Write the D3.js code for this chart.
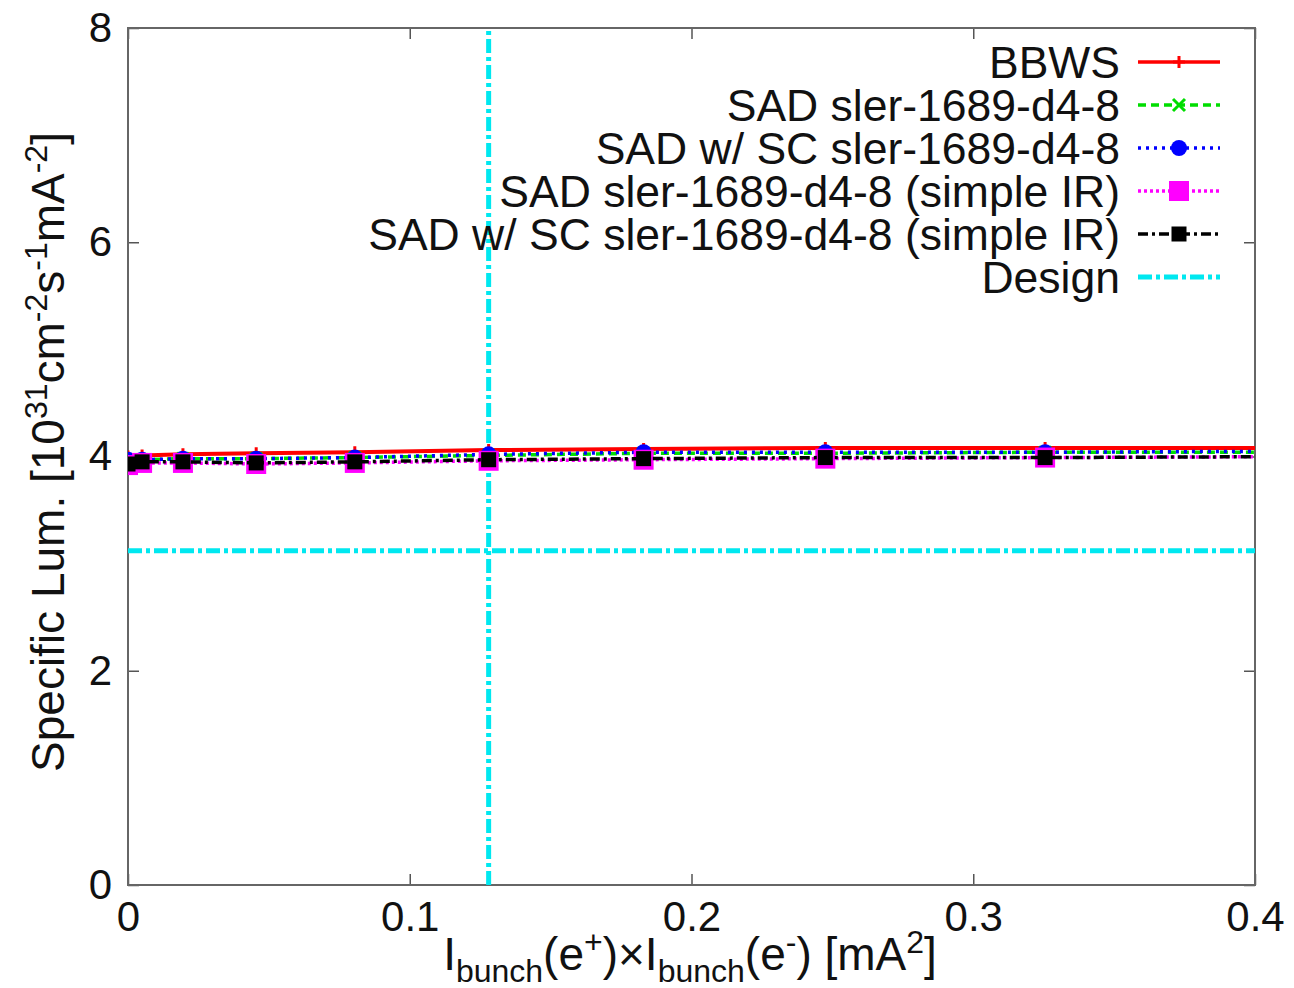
<!DOCTYPE html>
<html>
<head>
<meta charset="utf-8">
<script src="https://cdn.jsdelivr.net/npm/d3@7"></script>
<style>
  body { margin: 0; background: #fff; }
  svg text { font-family: "Liberation Sans", Arial, sans-serif; fill: #111; }
</style>
</head>
<body>
<svg id="canvas" width="1294" height="988"></svg>
<script>
// x = I_bunch(e+) x I_bunch(e-) [mA^2]; last point sits past the axis and gets clipped
const xVals = [0, 0.005, 0.0195, 0.0455, 0.0805, 0.128, 0.183, 0.2475, 0.3255, 0.42]

const bbws      = [4.00, 4.01, 4.02, 4.03, 4.04, 4.06, 4.07, 4.08, 4.08, 4.08]
const sad       = [3.96, 3.97, 3.98, 3.98, 3.99, 4.01, 4.03, 4.03, 4.04, 4.04]
const sadSC     = [3.97, 3.97, 3.98, 3.98, 3.99, 4.02, 4.04, 4.04, 4.04, 4.05]
const sadIR     = [3.92, 3.94, 3.94, 3.93, 3.94, 3.96, 3.97, 3.98, 3.99, 4.00]
const sadSCIR   = [3.93, 3.95, 3.95, 3.94, 3.95, 3.97, 3.98, 3.99, 3.99, 4.00]

const designX = 0.128
const designY = 3.12

const xTicks = [0, 0.1, 0.2, 0.3, 0.4]
const yTicks = [0, 2, 4, 6, 8]

const legendNames = [
    "BBWS",
    "SAD sler-1689-d4-8",
    "SAD w/ SC sler-1689-d4-8",
    "SAD sler-1689-d4-8 (simple IR)",
    "SAD w/ SC sler-1689-d4-8 (simple IR)",
    "Design"
]

const margin = { left: 128, right: 39, top: 28, bottom: 103 }
const width = 1294
const height = 988

let svg = d3.select("#canvas")

const xScale = d3.scaleLinear().domain([0, 0.4]).range([margin.left, width - margin.right])
const yScale = d3.scaleLinear().domain([0, 8]).range([height - margin.bottom, margin.top])

svg.append("defs").append("clipPath").attr("id", "plotclip")
    .append("rect")
    .attr("x", margin.left).attr("y", margin.top)
    .attr("width", xScale(0.4) - xScale(0)).attr("height", yScale(0) - yScale(8))

// axes with inward ticks
const tickLen = 11
svg.append("g")
    .attr("transform", "translate(0," + yScale(0) + ")")
    .call(d3.axisBottom(xScale).tickValues(xTicks).tickSize(-tickLen).tickPadding(16).tickFormat(d => d === 0 ? "0" : d3.format(".1f")(d)))
    .call(g => g.select(".domain").remove())
svg.append("g")
    .attr("transform", "translate(" + margin.left + ",0)")
    .call(d3.axisLeft(yScale).tickValues(yTicks).tickSize(-tickLen).tickPadding(16).tickFormat(d3.format("d")))
    .call(g => g.select(".domain").remove())
svg.append("g")
    .attr("transform", "translate(0," + yScale(8) + ")")
    .call(d3.axisTop(xScale).tickValues(xTicks).tickSize(-tickLen).tickFormat(""))
    .call(g => g.select(".domain").remove())
svg.append("g")
    .attr("transform", "translate(" + xScale(0.4) + ",0)")
    .call(d3.axisRight(yScale).tickValues(yTicks).tickSize(-tickLen).tickFormat(""))
    .call(g => g.select(".domain").remove())

svg.selectAll(".tick line").attr("stroke", "#555").attr("stroke-width", 1.5)
svg.selectAll(".tick text").attr("font-size", 42).attr("fill", "#111")

svg.append("rect")
    .attr("x", xScale(0)).attr("y", yScale(8))
    .attr("width", xScale(0.4) - xScale(0)).attr("height", yScale(0) - yScale(8))
    .attr("fill", "none").attr("stroke", "#666").attr("stroke-width", 2)

const plot = svg.append("g").attr("clip-path", "url(#plotclip)")

// design lines
const cyanDash = "14,4,4,4"
plot.append("line")
    .attr("x1", xScale(designX)).attr("x2", xScale(designX))
    .attr("y1", yScale(0)).attr("y2", yScale(8))
    .attr("stroke", "#00e8f0").attr("stroke-width", 5).attr("stroke-dasharray", cyanDash)
plot.append("line")
    .attr("x1", xScale(0)).attr("x2", xScale(0.4))
    .attr("y1", yScale(designY)).attr("y2", yScale(designY))
    .attr("stroke", "#00e8f0").attr("stroke-width", 5).attr("stroke-dasharray", cyanDash)

const series = [
    { vals: bbws, color: "#ff0000", dash: null, marker: "plus" },
    { vals: sad, color: "#00dd00", dash: "8,5", marker: "cross" },
    { vals: sadSC, color: "#0000ff", dash: "3,5", marker: "circle" },
    { vals: sadIR, color: "#ff00ff", dash: "3,3", marker: "bigsquare" },
    { vals: sadSCIR, color: "#000000", dash: "10,4,3,4", marker: "square" }
]

const line = d3.line().x((d, i) => xScale(xVals[i])).y(d => yScale(d))

const drawMarker = (g, type, x, y, color) => {
    if (type === "plus") {
        g.append("path").attr("d", `M${x - 6},${y}H${x + 6}M${x},${y - 6}V${y + 6}`)
            .attr("stroke", color).attr("stroke-width", 3)
    } else if (type === "cross") {
        g.append("path").attr("d", `M${x - 6},${y - 6}L${x + 6},${y + 6}M${x - 6},${y + 6}L${x + 6},${y - 6}`)
            .attr("stroke", color).attr("stroke-width", 3)
    } else if (type === "circle") {
        g.append("circle").attr("cx", x).attr("cy", y).attr("r", 8).attr("fill", color)
    } else if (type === "bigsquare") {
        g.append("rect").attr("x", x - 10).attr("y", y - 10).attr("width", 20).attr("height", 20).attr("fill", color)
    } else {
        g.append("rect").attr("x", x - 7.5).attr("y", y - 7.5).attr("width", 15).attr("height", 15).attr("fill", color)
    }
}

series.forEach(s => {
    plot.append("path")
        .datum(s.vals)
        .attr("d", line)
        .attr("fill", "none")
        .attr("stroke", s.color)
        .attr("stroke-width", s.color === "#ff0000" ? 4 : 3.5)
        .attr("stroke-dasharray", s.dash)
    s.vals.forEach((v, i) => drawMarker(plot, s.marker, xScale(xVals[i]), yScale(v), s.color))
})

// legend
const legend = svg.append("g").attr("id", "legend")
const legX = 1120
const legY0 = 62
const legStep = 43
const legendStyles = series.concat([{ color: "#00e8f0", dash: cyanDash, marker: null }])
legendNames.forEach((name, i) => {
    const y = legY0 + i * legStep
    legend.append("text")
        .attr("x", legX).attr("y", y)
        .attr("text-anchor", "end").attr("dominant-baseline", "central")
        .attr("font-size", 44.5)
        .text(name)
    const s = legendStyles[i]
    legend.append("line")
        .attr("x1", 1138).attr("x2", 1220).attr("y1", y).attr("y2", y)
        .attr("stroke", s.color).attr("stroke-width", i === 5 ? 5 : 3.5)
        .attr("stroke-dasharray", s.dash)
    if (s.marker) drawMarker(legend, s.marker, 1179, y, s.color)
})

// axis titles
const yTitle = svg.append("text")
    .attr("transform", "translate(64," + 452 + ") rotate(-90)")
    .attr("text-anchor", "middle")
    .attr("font-size", 46)
yTitle.append("tspan").text("Specific Lum. [10")
yTitle.append("tspan").attr("dy", -17).attr("font-size", 32).text("31")
yTitle.append("tspan").attr("dy", 17).text("cm")
yTitle.append("tspan").attr("dy", -17).attr("font-size", 32).text("-2")
yTitle.append("tspan").attr("dy", 17).text("s")
yTitle.append("tspan").attr("dy", -17).attr("font-size", 32).text("-1")
yTitle.append("tspan").attr("dy", 17).text("mA")
yTitle.append("tspan").attr("dy", -17).attr("font-size", 32).text("-2")
yTitle.append("tspan").attr("dy", 17).text("]")

const xTitle = svg.append("text")
    .attr("x", 690).attr("y", 970)
    .attr("text-anchor", "middle")
    .attr("font-size", 46)
xTitle.append("tspan").text("I")
xTitle.append("tspan").attr("dy", 12).attr("font-size", 32).text("bunch")
xTitle.append("tspan").attr("dy", -12).text("(e")
xTitle.append("tspan").attr("dy", -17).attr("font-size", 32).text("+")
xTitle.append("tspan").attr("dy", 17).text(")×I")
xTitle.append("tspan").attr("dy", 12).attr("font-size", 32).text("bunch")
xTitle.append("tspan").attr("dy", -12).text("(e")
xTitle.append("tspan").attr("dy", -17).attr("font-size", 32).text("-")
xTitle.append("tspan").attr("dy", 17).text(") [mA")
xTitle.append("tspan").attr("dy", -17).attr("font-size", 32).text("2")
xTitle.append("tspan").attr("dy", 17).text("]")
</script>
</body>
</html>
